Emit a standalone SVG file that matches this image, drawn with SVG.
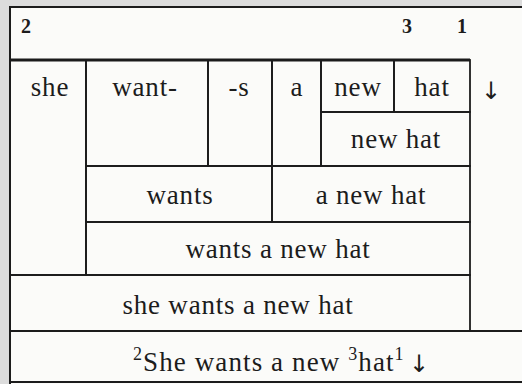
<svg xmlns="http://www.w3.org/2000/svg" width="522" height="384" viewBox="0 0 522 384">
<style>
.cell{fill:none;stroke:#1c1c1c;stroke-width:1.8}
.t{font-family:"Liberation Serif","DejaVu Serif",serif;font-size:27px;letter-spacing:0.8px;fill:#1c1c1c;text-anchor:middle}
.n{font-family:"Liberation Serif","DejaVu Serif",serif;font-size:20px;font-weight:bold;fill:#1c1c1c}
.sup{font-size:18px}
.arr{font-family:"DejaVu Sans",sans-serif;font-size:24px;fill:#1c1c1c;text-anchor:middle}
.frame{fill:none;stroke:#1c1c1c;stroke-width:2}
</style>
<rect x="0" y="0" width="522" height="384" fill="#dcdcdc"/>
<rect x="10" y="7" width="520" height="380" fill="#fbfbf9"/>
<g id="frame">
<path class="frame" d="M10,387 V7 H530"/>
<line x1="10" y1="382" x2="522" y2="382" stroke="#1c1c1c" stroke-width="2"/>
</g>
<g id="numbers">
<text class="n" x="21" y="33">2</text>
<text class="n" x="402" y="33">3</text>
<text class="n" x="457" y="33">1</text>
</g>
<g id="connectors">
<line x1="10" y1="60" x2="470" y2="60" stroke="#1c1c1c" stroke-width="3"/>
<line x1="10" y1="331" x2="522" y2="331" stroke="#1c1c1c" stroke-width="2"/>
</g>
<g id="n-she"><rect class="cell" x="10" y="60" width="76" height="215"/><text class="t" x="50" y="96">she</text></g>
<g id="n-want"><rect class="cell" x="86" y="60" width="122" height="106"/><text class="t" x="145" y="96">want-</text></g>
<g id="n-s"><rect class="cell" x="208" y="60" width="64" height="106"/><text class="t" x="239" y="96">-s</text></g>
<g id="n-a"><rect class="cell" x="272" y="60" width="49" height="106"/><text class="t" x="297" y="96">a</text></g>
<g id="n-new"><rect class="cell" x="321" y="60" width="73" height="52"/><text class="t" x="358" y="96">new</text></g>
<g id="n-hat"><rect class="cell" x="394" y="60" width="76" height="52"/><text class="t" x="432" y="96">hat</text></g>
<g id="n-arrow"><text class="arr" x="491" y="99">↓</text></g>
<g id="n-newhat"><rect class="cell" x="321" y="112" width="149" height="54"/><text class="t" x="396" y="148">new hat</text></g>
<g id="n-wants"><rect class="cell" x="86" y="166" width="186" height="56"/><text class="t" x="180" y="204">wants</text></g>
<g id="n-anewhat"><rect class="cell" x="272" y="166" width="198" height="56"/><text class="t" x="371" y="204">a new hat</text></g>
<g id="n-wantsanewhat"><rect class="cell" x="86" y="222" width="384" height="53"/><text class="t" x="278" y="258">wants a new hat</text></g>
<g id="n-shewantsanewhat"><rect class="cell" x="10" y="275" width="460" height="56"/><text class="t" x="238" y="314">she wants a new hat</text></g>
<g id="n-sentence"><text class="t" x="133" y="371" style="text-anchor:start;letter-spacing:1.1px"><tspan class="sup" dy="-11">2</tspan><tspan dy="11">She wants a new </tspan><tspan class="sup" dy="-11">3</tspan><tspan dy="11">hat</tspan><tspan class="sup" dy="-11">1</tspan></text><text class="arr" x="419" y="372">↓</text></g>
</svg>
